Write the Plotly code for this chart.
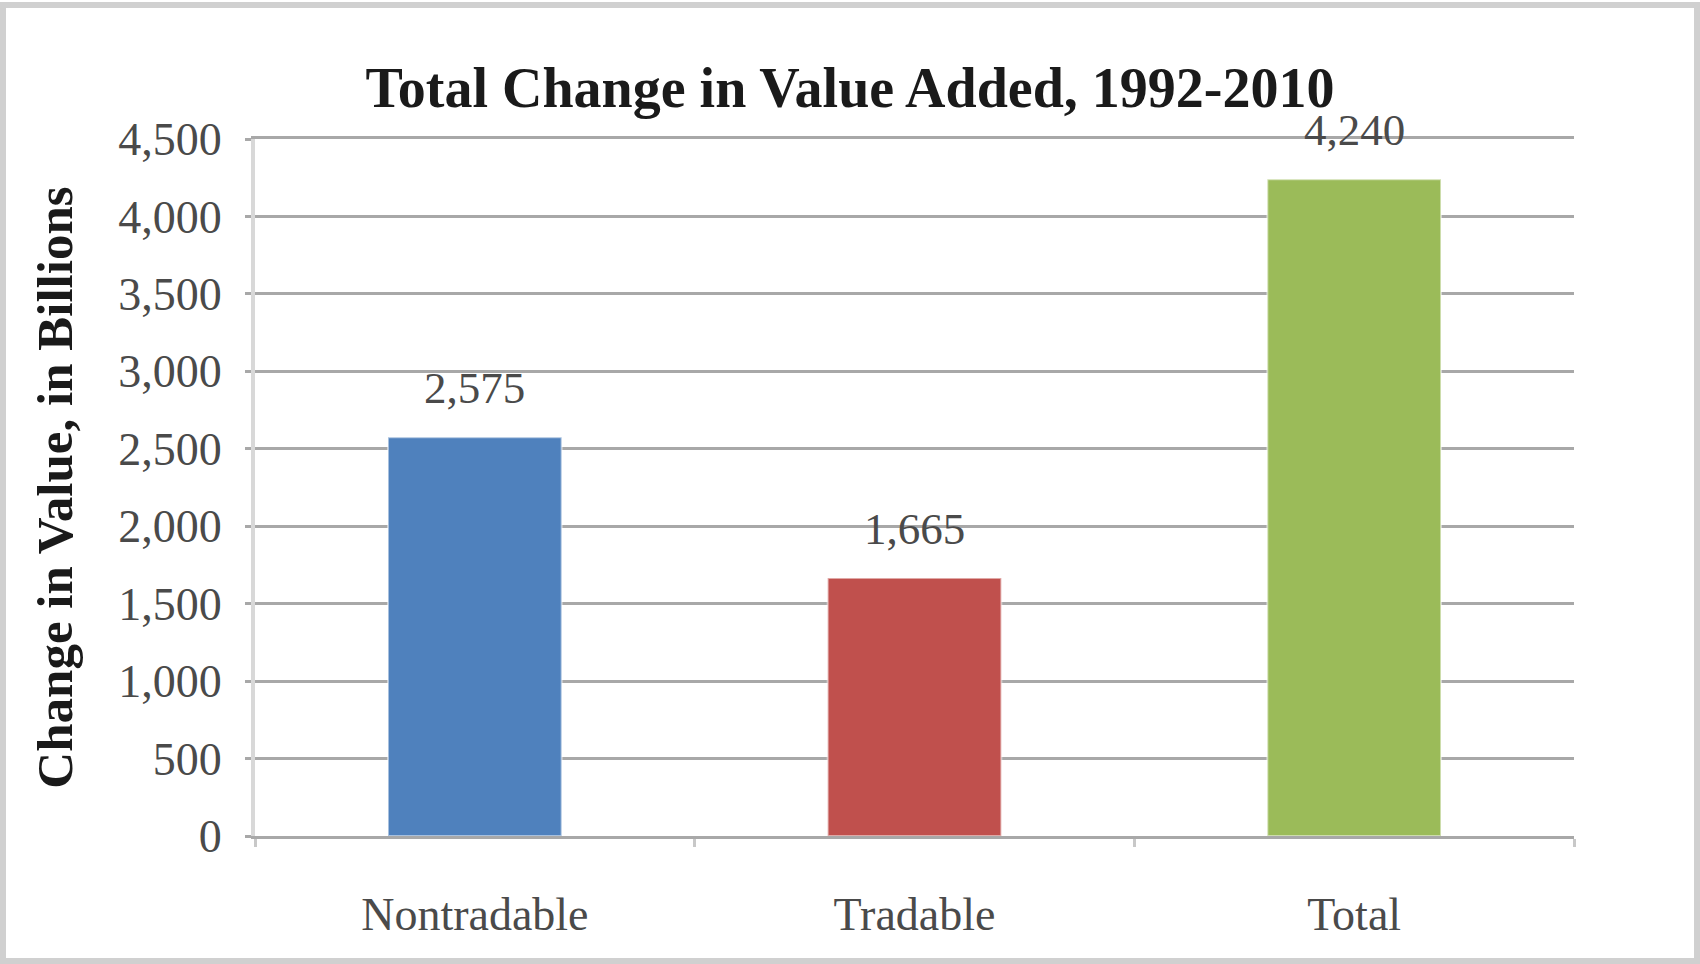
"""
Total change in value added, 1992-2010 - bar chart.
"""

import plotly.graph_objects as go

# ── Data ────────────────────────────────────────────────────────
CATEGORIES = ["Nontradable", "Tradable", "Total"]
VALUES = [2575, 1665, 4240]
BAR_COLORS = ["#4F81BD", "#C0504D", "#9BBB59"]
Y_TICKS = [0, 500, 1000, 1500, 2000, 2500, 3000, 3500, 4000, 4500]
Y_TICK_LABELS = ["0", "500", "1,000", "1,500", "2,000", "2,500",
                 "3,000", "3,500", "4,000", "4,500"]

W, H = 1700, 964
MARGIN = dict(l=255, r=126, t=139, b=128)
FONT = "Liberation Serif, Times New Roman, serif"
GRID = "#A8A8A8"
TEXT = "#4A4A4A"

fig = go.Figure(
    go.Bar(
        x=CATEGORIES,
        y=VALUES,
        marker=dict(color=BAR_COLORS, line=dict(color="rgba(255,255,255,0.5)", width=2)),
        hoverinfo="x+y",
    )
)

# value labels above bars
for cat, val in zip(CATEGORIES, VALUES):
    fig.add_annotation(
        x=cat, y=val, text=f"{val:,}", showarrow=False,
        yshift=49, font=dict(family=FONT, size=45, color=TEXT),
    )

# outer frame around the whole picture
pw = W - MARGIN["l"] - MARGIN["r"]
ph = H - MARGIN["t"] - MARGIN["b"]
fig.add_shape(
    type="rect", xref="paper", yref="paper",
    x0=-(MARGIN["l"] - 3) / pw, x1=1 + (MARGIN["r"] - 3) / pw,
    y0=-(MARGIN["b"] - 3) / ph, y1=1 + (MARGIN["t"] - 5) / ph,
    line=dict(color="#D0D0D0", width=6),
)

fig.update_layout(
    width=W, height=H,
    margin=MARGIN,
    paper_bgcolor="white", plot_bgcolor="white",
    bargap=0.605,
    showlegend=False,
    font=dict(family=FONT, color=TEXT),
    title=dict(
        text="<b>Total Change in Value Added, 1992-2010</b>",
        x=0.5, xref="container", xanchor="center",
        y=1 - 87 / H, yref="container", yanchor="middle",
        font=dict(family=FONT, size=56, color="#1A1A1A"),
    ),
)

fig.update_xaxes(
    tickson="boundaries", ticks="outside", ticklen=8, tickwidth=3, tickcolor="#C8C8C8",
    showline=True, linecolor=GRID, linewidth=3, mirror=True,
    tickfont=dict(family=FONT, size=46, color=TEXT),
    ticklabelstandoff=36,
    showgrid=False,
)
fig.update_yaxes(
    range=[0, 4500],
    tickvals=Y_TICKS, ticktext=Y_TICK_LABELS,
    ticks="outside", ticklen=6, tickwidth=3, tickcolor=GRID,
    showline=True, linecolor="#D8D8D8", linewidth=4,
    showgrid=True, gridcolor=GRID, gridwidth=3,
    zeroline=False,
    tickfont=dict(family=FONT, size=46, color=TEXT),
    ticklabelstandoff=14,
    title=dict(
        text="<b>Change in Value, in Billions</b>",
        font=dict(family=FONT, size=51, color="#1A1A1A"),
        standoff=30,
    ),
)

# drop the default page margin so the chart sits flush in the window
fig.write_html(
    "out.html",
    config={"displayModeBar": False},
    post_script="document.body.style.margin = '0';",
)
